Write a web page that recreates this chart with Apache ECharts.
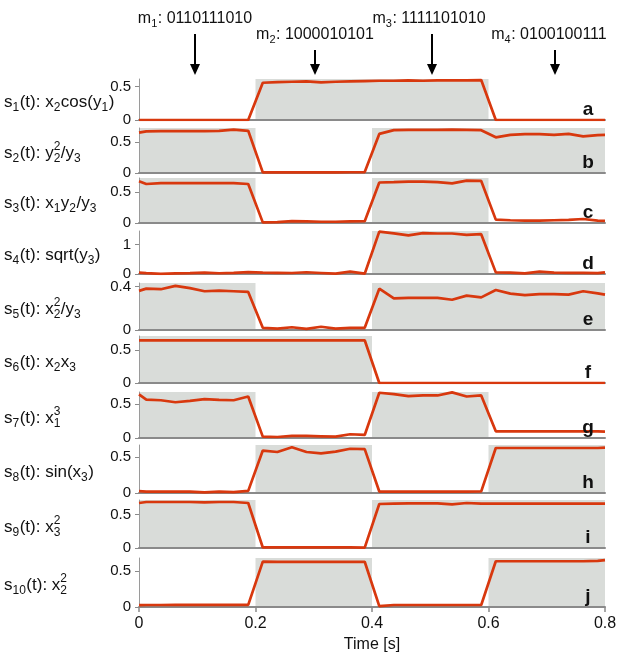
<!DOCTYPE html>
<html>
<head>
<meta charset="utf-8">
<script src="https://cdn.jsdelivr.net/npm/echarts@6/dist/echarts.min.js"></script>
<style>
  html, body { margin: 0; padding: 0; background: #fff; }
  #chart { width: 620px; height: 661px; }
</style>
</head>
<body>
<div id="chart"></div>
<script>
// sample times [s]
var times = [0, 0.0125, 0.0375, 0.0625, 0.0875, 0.1125, 0.1375, 0.1625, 0.1875,
  0.2125, 0.2375, 0.2625, 0.2875, 0.3125, 0.3375, 0.3625, 0.3875,
  0.4125, 0.4375, 0.4625, 0.4875, 0.5125, 0.5375, 0.5625, 0.5875,
  0.6125, 0.6375, 0.6625, 0.6875, 0.7125, 0.7375, 0.7625, 0.7875, 0.8];

var s1 = [0, 0, 0, 0, 0, 0, 0, 0, 0,
  0.56, 0.57, 0.575, 0.58, 0.565, 0.575, 0.58, 0.585,
  0.59, 0.59, 0.595, 0.59, 0.595, 0.595, 0.595, 0.6,
  0, 0, 0, 0, 0, 0, 0, 0, 0];
var s2 = [0.65, 0.67, 0.675, 0.675, 0.675, 0.675, 0.68, 0.70, 0.68,
  0.01, 0.01, 0.01, 0.01, 0.012, 0.01, 0.012, 0.015,
  0.63, 0.69, 0.695, 0.695, 0.695, 0.70, 0.695, 0.69,
  0.575, 0.615, 0.625, 0.625, 0.615, 0.63, 0.59, 0.61, 0.615];
var s3 = [0.68, 0.635, 0.65, 0.65, 0.65, 0.65, 0.65, 0.65, 0.635,
  0.01, 0.015, 0.03, 0.025, 0.02, 0.02, 0.025, 0.03,
  0.66, 0.665, 0.675, 0.675, 0.665, 0.645, 0.69, 0.685,
  0.055, 0.045, 0.04, 0.04, 0.045, 0.05, 0.065, 0.04, 0.035];
var s4 = [0.045, 0.03, 0.005, 0.02, 0.03, 0.045, 0.025, 0.04, 0.065,
  0.045, 0.04, 0.035, 0.06, 0.035, 0.01, 0.08, 0.01,
  1.45, 1.39, 1.32, 1.40, 1.385, 1.385, 1.34, 1.36,
  0.055, 0.05, 0.02, 0.08, 0.045, 0.04, 0.04, 0.03, 0.055];
var s5 = [0.36, 0.38, 0.375, 0.405, 0.385, 0.356, 0.362, 0.356, 0.35,
  0.02, 0.012, 0.025, 0.01, 0.03, 0.012, 0.02, 0.02,
  0.38, 0.29, 0.295, 0.296, 0.295, 0.278, 0.316, 0.30,
  0.368, 0.334, 0.32, 0.33, 0.33, 0.325, 0.356, 0.337, 0.325];
var s6 = [0.645, 0.645, 0.646, 0.645, 0.645, 0.644, 0.645, 0.645, 0.645,
  0.645, 0.645, 0.645, 0.644, 0.645, 0.645, 0.645, 0.645,
  0, 0, 0, 0, 0, 0, 0, 0,
  0, 0, 0, 0, 0, 0, 0, 0, 0];
var s7 = [0.64, 0.565, 0.555, 0.525, 0.545, 0.57, 0.56, 0.555, 0.61,
  0.02, 0.015, 0.03, 0.03, 0.025, 0.02, 0.055, 0.045,
  0.665, 0.645, 0.615, 0.625, 0.625, 0.67, 0.61, 0.625,
  0.098, 0.098, 0.097, 0.098, 0.098, 0.097, 0.098, 0.098, 0.095];
var s8 = [0.025, 0.02, 0.02, 0.018, 0.02, 0.01, 0.018, 0.012, 0.03,
  0.59, 0.57, 0.635, 0.57, 0.55, 0.575, 0.615, 0.61,
  0.02, 0.018, 0.02, 0.02, 0.018, 0.02, 0.018, 0.022,
  0.625, 0.625, 0.625, 0.625, 0.625, 0.625, 0.625, 0.625, 0.63];
var s9 = [0.675, 0.69, 0.69, 0.69, 0.69, 0.685, 0.69, 0.69, 0.675,
  0.008, 0.01, 0.01, 0.01, 0.01, 0.01, 0.008, 0.005,
  0.66, 0.665, 0.67, 0.67, 0.67, 0.655, 0.675, 0.665,
  0.665, 0.665, 0.665, 0.665, 0.665, 0.665, 0.665, 0.665, 0.665];
var s10 = [0.025, 0.028, 0.028, 0.03, 0.03, 0.03, 0.03, 0.03, 0.03,
  0.63, 0.625, 0.625, 0.625, 0.625, 0.625, 0.625, 0.628,
  0.012, 0.028, 0.028, 0.028, 0.028, 0.028, 0.028, 0.028,
  0.635, 0.635, 0.635, 0.635, 0.635, 0.635, 0.635, 0.64, 0.65];

var signals = [s1, s2, s3, s4, s5, s6, s7, s8, s9, s10];
var signalNames = [
  's_{1}(t): x_{2}cos(y_{1})',
  's_{2}(t): y_{2}^{2}/y_{3}',
  's_{3}(t): x_{1}y_{2}/y_{3}',
  's_{4}(t): sqrt(y_{3})',
  's_{5}(t): x_{2}^{2}/y_{3}',
  's_{6}(t): x_{2}x_{3}',
  's_{7}(t): x_{1}^{3}',
  's_{8}(t): sin(x_{3})',
  's_{9}(t): x_{3}^{2}',
  's_{10}(t): x_{2}^{2}'
];
var panelLetters = ['a', 'b', 'c', 'd', 'e', 'f', 'g', 'h', 'i', 'j'];
var yMax = [0.616, 0.725, 0.733, 1.47, 0.432, 0.71, 0.676, 0.667, 0.72, 0.68];
var yTicks = [[0, 0.5], [0, 0.5], [0, 0.5], [0, 1], [0, 0.4],
  [0, 0.5], [0, 0.5], [0, 0.5], [0, 0.5], [0, 0.5]];
var xTicks = [0, 0.2, 0.4, 0.6, 0.8];

// messages: bit k of each message marks panel k active in that window
var messageNames = ['m_{1}', 'm_{2}', 'm_{3}', 'm_{4}'];
var messages = ['0110111010', '1000010101', '1111101010', '0100100111'];
var windowEdges = [0, 0.2, 0.4, 0.6, 0.8];

// layout
var FONT = '"Liberation Sans", Arial, sans-serif';
var panelTop = [79, 128, 178, 231, 283, 336, 392, 445, 500, 558];
var panelHeight = [41, 45, 45, 43, 47, 47, 46, 48, 48, 49];
var plotLeft = 139, plotWidth = 466;
var arrowX = [195, 315, 432, 555];
var msgLabelX = [195, 315, 429, 549];
var msgLabelY = [19, 35, 19, 35];
var arrowTop = [34, 50, 34, 50];
var arrowTip = 75;

var measureCtx = document.createElement('canvas').getContext('2d');
function textWidth(str, size, weight) {
  measureCtx.font = (weight || 'normal') + ' ' + size + 'px ' + FONT;
  return measureCtx.measureText(str).width;
}

function parseMath(str) {
  var parts = [];
  var re = /_\{([^}]*)\}(?:\^\{([^}]*)\})?|\^\{([^}]*)\}|[^_^]+/g;
  var m;
  while ((m = re.exec(str))) {
    if (m[1] !== undefined) parts.push({ sub: m[1], sup: m[2] });
    else if (m[3] !== undefined) parts.push({ sup: m[3] });
    else parts.push({ text: m[0] });
  }
  return parts;
}

// lays out text with sub/superscripts as separate graphic texts
function mathText(str, x, cy, size, centered) {
  var small = Math.round(size * 0.7);
  var parts = parseMath(str);
  var total = 0;
  parts.forEach(function (p) {
    if (p.text !== undefined) p.w = textWidth(p.text, size);
    else p.w = Math.max(p.sub ? textWidth(p.sub, small) : 0, p.sup ? textWidth(p.sup, small) : 0) + 0.5;
    total += p.w;
  });
  if (centered) x -= total / 2;
  var els = [];
  function add(t, px, py, sz) {
    els.push({
      type: 'text', x: px, y: py, z: 100, silent: true,
      style: { text: t, font: sz + 'px ' + FONT, fill: '#111', verticalAlign: 'middle' }
    });
  }
  parts.forEach(function (p) {
    if (p.text !== undefined) add(p.text, x, cy, size);
    else {
      if (p.sub) add(p.sub, x, cy + size * 0.32, small);
      if (p.sup) add(p.sup, x, cy - size * 0.4, small);
    }
    x += p.w;
  });
  return els;
}

// merge consecutive active windows of one panel into shaded spans
function activeSpans(panel) {
  var spans = [], start = null;
  messages.forEach(function (msg, w) {
    var on = msg.charAt(panel) === '1';
    if (on && start === null) start = windowEdges[w];
    if (!on && start !== null) { spans.push([{ xAxis: start }, { xAxis: windowEdges[w] }]); start = null; }
  });
  if (start !== null) spans.push([{ xAxis: start }, { xAxis: windowEdges[windowEdges.length - 1] }]);
  return spans;
}

var chart = echarts.init(document.getElementById('chart'));

var grids = [], xAxes = [], yAxes = [], series = [], graphics = [];
signals.forEach(function (vals, i) {
  var last = i === signals.length - 1;
  grids.push({ left: plotLeft, width: plotWidth, top: panelTop[i], height: panelHeight[i] });
  xAxes.push({
    type: 'value', gridIndex: i, min: 0, max: 0.8, interval: 0.2, z: 2,
    axisLine: { show: true, onZero: false, lineStyle: { color: '#8a8a8a', width: 2 } },
    axisTick: { show: last, length: 5, customValues: xTicks, lineStyle: { color: '#8a8a8a', width: 1.5 } },
    axisLabel: { show: last, customValues: xTicks, margin: 9, fontSize: 16, color: '#111', fontFamily: FONT },
    splitLine: { show: false },
    name: last ? 'Time [s]' : '',
    nameLocation: 'middle', nameGap: 30,
    nameTextStyle: { fontSize: 16, color: '#111', fontFamily: FONT }
  });
  yAxes.push({
    type: 'value', gridIndex: i, min: 0, max: yMax[i], z: 2,
    axisLine: { show: true, lineStyle: { color: '#9a9a9a', width: 1 } },
    axisTick: { show: true, length: 4, customValues: yTicks[i], lineStyle: { color: '#8a8a8a' } },
    axisLabel: { customValues: yTicks[i], margin: 8, fontSize: 15, color: '#111', fontFamily: FONT },
    splitLine: { show: false }
  });

  series.push({
    type: 'line', xAxisIndex: i, yAxisIndex: i, z: 3,
    data: times.map(function (t, j) { return [t, vals[j]]; }),
    symbol: 'none', animation: false,
    lineStyle: { color: '#d8380e', width: 2.7 },
    markArea: { silent: true, itemStyle: { color: '#d9dcd9' }, data: activeSpans(i) }
  });

  var cy = panelTop[i] + panelHeight[i] / 2 + 3;
  graphics = graphics.concat(mathText(signalNames[i], 4, cy, 17, false));
  graphics.push({
    type: 'text', x: 588, y: panelTop[i] + panelHeight[i] - 10, z: 100, silent: true,
    style: { text: panelLetters[i], font: 'bold 19px ' + FONT, fill: '#111', align: 'center', verticalAlign: 'middle' }
  });
});

messages.forEach(function (msg, k) {
  graphics = graphics.concat(mathText(messageNames[k] + ': ' + msg, msgLabelX[k], msgLabelY[k], 16, true));
  graphics.push({
    type: 'line', silent: true, z: 100,
    shape: { x1: arrowX[k], y1: arrowTop[k], x2: arrowX[k], y2: arrowTip - 8 },
    style: { stroke: '#000', lineWidth: 2 }
  });
  graphics.push({
    type: 'polygon', silent: true, z: 100,
    shape: { points: [[arrowX[k] - 5, arrowTip - 11], [arrowX[k] + 5, arrowTip - 11], [arrowX[k], arrowTip]] },
    style: { fill: '#000' }
  });
});

chart.setOption({
  animation: false,
  backgroundColor: '#fff',
  grid: grids,
  xAxis: xAxes,
  yAxis: yAxes,
  series: series,
  graphic: graphics
});
</script>
</body>
</html>
